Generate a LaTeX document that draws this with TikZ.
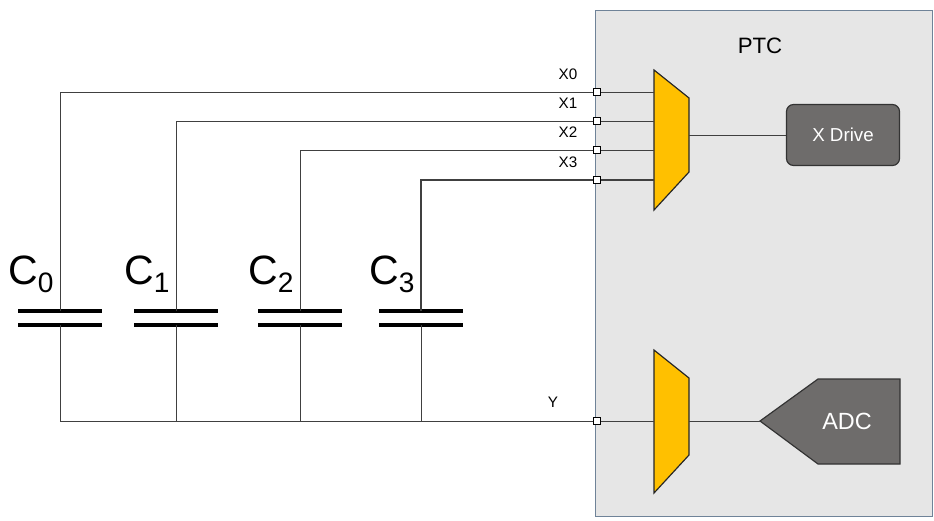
\documentclass[tikz,border=0pt]{standalone}
\usepackage{fontspec}
\setmainfont{Liberation Sans}
\definecolor{muxc}{HTML}{FFC000}
\definecolor{ptcb}{HTML}{6F8398}
\definecolor{ptcf}{HTML}{E6E6E6}
\definecolor{blkc}{HTML}{6E6C6B}
\begin{document}
\begin{tikzpicture}[x=0.03cm,y=-0.03cm,
  wire/.style={draw=black!75,line width=0.8pt},
  port/.style={draw=black,fill=white,minimum size=0.22cm,inner sep=0pt,line width=0.7pt},
  mux/.style={draw=black!85,fill=muxc,line width=1pt},
  plate/.style={line width=2.6pt,black},
  blk/.style={draw=black!80,fill=blkc,line width=1pt},
  lbl/.style={font=\fontsize{13}{14}\selectfont,inner sep=1pt},
  capl/.style={font=\fontsize{35}{38}\selectfont,inner sep=0pt}]
\useasboundingbox (0,0) rectangle (934,520);
\node[draw=ptcb,fill=ptcf,line width=1.2pt,minimum width=337*0.03cm,minimum height=506*0.03cm,inner sep=0pt,anchor=north west] (ptc) at (595,10) {};
\node[font=\fontsize{19}{21}\selectfont] (ptcl) at (760,46) {PTC};
% muxes
\draw[mux] (654,70) -- (689,98) -- (689,172) -- (654,210) -- cycle;
\draw[mux] (654,350) -- (689,378) -- (689,455) -- (654,493) -- cycle;
\coordinate (m1o) at (689,135);
\coordinate (m2o) at (689,421);
\node[blk,rounded corners=6pt,minimum width=113*0.03cm,minimum height=61*0.03cm,text=white,font=\fontsize{16}{18}\selectfont] (xd) at (843,135) {X Drive};
\draw[blk] (760,421) -- (818,379) -- (900,379) -- (900,464) -- (818,464) -- cycle;
\node[text=white,font=\fontsize{20}{22}\selectfont] (adc) at (847,421) {ADC};
\coordinate (adctip) at (760,421);
\draw[wire] (m1o) -- (xd.west);
\draw[wire] (m2o) -- (adctip);
% capacitors
\foreach \i/\x in {0/60,1/176,2/300,3/421}{
  \coordinate (t\i) at (\x,311);
  \coordinate (b\i) at (\x,325);
  \coordinate (g\i) at (\x,421);
  \draw[plate] (\x-42,311) -- (\x+42,311);
  \draw[plate] (\x-42,325) -- (\x+42,325);
  \draw[wire] (b\i) -- (g\i);
  \node[capl,anchor=base west] (c\i) at (\x-52,284) {C\raisebox{-0.2em}{\fontsize{24}{26}\selectfont\i}};
}
% X lines
\foreach \i/\x/\y/\w in {0/60/92/0.8,1/176/121/0.8,2/300/150/0.8,3/421/180/1.3}{
  \coordinate (top\i) at (\x,\y);
  \coordinate (mi\i) at (654,\y);
  \draw[wire,line width=\w pt] (t\i) -- (top\i) -- (mi\i);
  \node[lbl] (xl\i) at (568,\y-18) {X\i};
}
\draw[wire] (g0) -- (mi0 |- g0) coordinate (mY);
\foreach \i/\y in {0/92,1/121,2/150,3/180}{\node[port] (p\i) at (597,\y) {};}
\node[port] (pY) at (597,421) {};
\node[lbl] (yl) at (553,402) {Y};
\end{tikzpicture}
\end{document}
